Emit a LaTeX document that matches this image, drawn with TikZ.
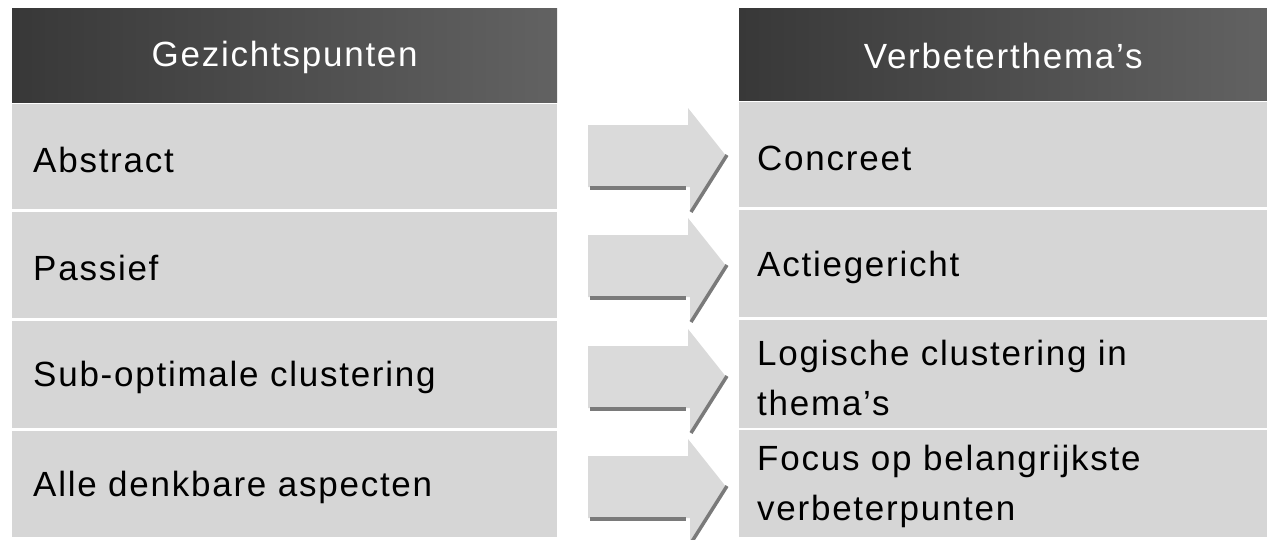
\documentclass[tikz,border=0pt]{standalone}
\usepackage{fontspec}
\setmainfont{Liberation Sans}[LetterSpace=5]
\begin{document}
\begin{tikzpicture}[x=1pt,y=-1pt,
  hdr/.style={anchor=north west, inner sep=0pt, draw=none,
    left color=hdrL, right color=hdrR},
  hdrtext/.style={text=white, inner sep=0pt, font=\fontsize{35}{48}\selectfont},
  rowbox/.style={anchor=north west, fill=rowgray, draw=none, inner sep=0pt},
  rowtext/.style={anchor=west, inner sep=0pt, align=left,
    font=\fontsize{35}{50}\selectfont},
  arrfill/.style={fill=arrgray, draw=none},
  arrshade/.style={draw=shadegray, line width=3.5pt}
]
\definecolor{hdrL}{HTML}{383838}
\definecolor{hdrR}{HTML}{626262}
\definecolor{rowgray}{HTML}{D6D6D6}
\definecolor{arrgray}{HTML}{DADADA}
\definecolor{shadegray}{HTML}{7A7A7A}
\useasboundingbox (0,0) rectangle (1267,539);
\fill[white] (0,0) rectangle (1267,539);
% left column
\node[hdr, minimum width=545pt, minimum height=94pt] (lh) at (12,8) {};
\node[hdrtext] (lht) at ([yshift=-2pt]lh.center) {Gezichtspunten};
\node[rowbox, minimum width=545pt, minimum height=105pt] (l1) at (12,104) {};
\node[rowbox, minimum width=545pt, minimum height=106pt] (l2) at (12,212) {};
\node[rowbox, minimum width=545pt, minimum height=107pt] (l3) at (12,321) {};
\node[rowbox, minimum width=545pt, minimum height=106pt] (l4) at (12,431) {};
\node[rowtext] (l1t) at ([xshift=21pt,yshift=-3pt]l1.west) {Abstract};
\node[rowtext] (l2t) at ([xshift=21pt,yshift=-3pt]l2.west) {Passief};
\node[rowtext] (l3t) at ([xshift=21pt,yshift=-3pt]l3.west) {Sub-optimale clustering};
\node[rowtext] (l4t) at ([xshift=21pt,yshift=-3pt]l4.west) {Alle denkbare aspecten};
% right column
\node[hdr, minimum width=528pt, minimum height=92pt] (rh) at (739,8) {};
\node[hdrtext] (rht) at ([yshift=-2pt]rh.center) {Verbeterthema's};
\node[rowbox, minimum width=528pt, minimum height=105pt] (r1) at (739,102) {};
\node[rowbox, minimum width=528pt, minimum height=107pt] (r2) at (739,210) {};
\node[rowbox, minimum width=528pt, minimum height=108pt] (r3) at (739,320) {};
\node[rowbox, minimum width=528pt, minimum height=107pt] (r4) at (739,430) {};
\node[rowtext] (r1t) at ([xshift=18pt,yshift=-4pt]r1.west) {Concreet};
\node[rowtext] (r2t) at ([xshift=18pt,yshift=-4pt]r2.west) {Actiegericht};
\node[rowtext] (r3t) at ([xshift=18pt,yshift=-4pt]r3.west) {Logische clustering in\\thema's};
\node[rowtext] (r4t) at ([xshift=18pt,yshift=-3pt]r4.west) {Focus op belangrijkste\\verbeterpunten};
% arrows
\foreach \c in {157,267,378,488}{
  \fill[arrfill] (588,\c-32) -- (688,\c-32) -- (688,\c-49) -- (727,\c) -- (690,\c+54) -- (690,\c+30) -- (588,\c+30) -- cycle;
  \draw[arrshade] (590,\c+31) -- (686,\c+31);
  \draw[arrshade, line cap=butt] (727,\c-2) -- (691,\c+55);
}
\end{tikzpicture}
\end{document}
